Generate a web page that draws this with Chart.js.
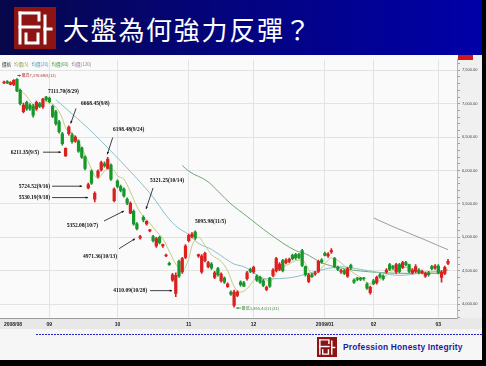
<!DOCTYPE html>
<html><head><meta charset="utf-8">
<script src="https://cdn.jsdelivr.net/npm/chart.js@4.4.1/dist/chart.umd.min.js"></script>
<style>
html,body{margin:0;padding:0;}
body{width:486px;height:366px;position:relative;overflow:hidden;background:#000;}
#slide{position:absolute;left:0;top:0;width:482px;height:360px;background:#f6f6f6;overflow:hidden;}
#band{position:absolute;left:0;top:0;width:482px;height:55px;background:linear-gradient(90deg,#07074a 0%,#04047c 45%,#0000a8 100%);}
#logo{position:absolute;left:14px;top:7px;width:42px;height:42px;}
#title{position:absolute;left:63px;top:16px;font:400 26px/26px "Noto Sans CJK TC";color:#fff;letter-spacing:1.7px;white-space:nowrap;}
#chartbox{position:absolute;left:0;top:55px;width:482px;height:277px;}
#dots{position:absolute;left:36px;top:334px;width:446px;height:1px;background:repeating-linear-gradient(90deg,#2424c8 0 2px,transparent 2px 3px);}
#logo2{position:absolute;left:317px;top:337px;width:20px;height:20px;}
#motto{position:absolute;left:343px;top:343px;font:bold 8.4px/9px "Liberation Sans";color:#1c1c9c;letter-spacing:0.2px;white-space:nowrap;}
</style></head>
<body>
<div id="slide">
 <div id="band"></div>
 <svg id="logo" viewBox="0 0 42 42"><rect x="0" y="0" width="42" height="42" fill="#8e1414"/><g fill="none" stroke="#fff" stroke-width="3" stroke-linecap="square"><path d="M6 6 H25 V13"/><path d="M6 6 V36"/><path d="M6 20 H25"/><path d="M12 27 V36 H24 V27"/><path d="M31 9 V36"/><path d="M31 22 H37"/></g></svg>
 <div id="title">大盤為何強力反彈？</div>
 <div id="chartbox"><canvas id="c" width="482" height="277" style="width:482px;height:277px"></canvas></div>
 <div id="dots"></div>
 <svg id="logo2" viewBox="0 0 42 42"><rect x="0" y="0" width="42" height="42" fill="#8e1414"/><g fill="none" stroke="#fff" stroke-width="3" stroke-linecap="square"><path d="M6 6 H25 V13"/><path d="M6 6 V36"/><path d="M6 20 H25"/><path d="M12 27 V36 H24 V27"/><path d="M31 9 V36"/><path d="M31 22 H37"/></g></svg>
 <div id="motto">Profession Honesty Integrity</div>
</div>
<script>
// ---- data (TAIEX daily, 2008/08 - 2009/03) ----
const opens = [7310,7330,7290,7290,7365,7200,6880,7020,6980,6960,6920,7000,6950,7100,
7080,6960,6880,6730,6550,6220,6550,6530,6440,6440,6340,6200,5740,5990,5570,5910,6010,6100,6030,6080,5550,
5840,5760,5720,5570,5360,5390,5200,4990,5300,5200,5095,5010,4870,5000,4870,4720,4610,4360,4160,4640,4480,4700,
4950,5010,5080,4720,4480,4650,4560,4600,4400,4530,4350,4390,4260,4180,3980,4130,4330,4320,4380,4520,
4480,4420,4400,4350,4220,4390,4430,4500,4520,4650,4620,4640,4730,4740,4740,4800,4560,4340,4440,4450,4490,4660,
4760,4720,4780,4680,4550,4480,4500,4420,4580,4360,4390,4390,4390,4300,4170,
4350,4320,4440,4420,4480,4590,4560,4480,4590,4550,4620,4590,4470,4490,4510,4470,4420,4470,4560,4540,
4570,4400,4460,4610];
const highs = [7340,7345,7330,7360,7377,7220,7010,7040,7000,6990,7040,7020,7080,7112,
7100,6980,6900,6750,6570,6340,6668,6560,6520,6460,6350,6220,5810,6010,5680,6010,6140,6130,6198,6100,5740,
5860,5780,5740,5590,5530,5410,5220,5030,5321,5250,5120,5030,5000,5020,4900,4750,4630,4460,4470,4660,4700,4890,
5050,5070,5096,4750,4740,4780,4640,4620,4490,4550,4470,4410,4320,4200,4210,4200,4350,4340,4490,4540,
4570,4440,4420,4370,4270,4400,4530,4700,4620,4670,4680,4690,4750,4760,4760,4820,4570,4460,4460,4490,4660,4680,
4780,4770,4830,4700,4570,4520,4520,4550,4600,4380,4400,4400,4400,4320,4270,
4370,4420,4460,4440,4530,4610,4580,4610,4610,4640,4640,4600,4530,4590,4530,4510,4480,4490,4580,4590,
4590,4500,4570,4670];
const lows = [7300,7300,7280,7270,7180,6980,6860,6900,6900,6800,6900,6940,6930,7040,
7010,6790,6680,6560,6380,6211,6530,6410,6420,6270,6180,6010,5724,5790,5530,5890,5990,6050,6020,5850,5530,
5740,5680,5600,5490,5352,5180,5110,4971,5230,5180,5080,4930,4850,4900,4850,4710,4580,4340,4110,4400,4460,4680,
4930,4990,4970,4700,4460,4630,4540,4520,4380,4420,4330,4310,4250,4130,3955,4110,4270,4260,4360,4470,
4460,4340,4310,4260,4200,4250,4410,4480,4500,4480,4600,4620,4660,4670,4680,4560,4420,4320,4400,4430,4470,4610,
4720,4700,4760,4540,4500,4460,4440,4400,4520,4310,4350,4350,4360,4220,4150,
4290,4300,4390,4360,4460,4500,4520,4460,4470,4530,4570,4470,4450,4470,4450,4450,4400,4420,4510,4520,
4450,4330,4440,4590];
const closes = [7325,7312,7315,7350,7190,7000,6980,6920,6920,6830,7020,6960,7070,7060,
7030,6810,6700,6580,6400,6330,6650,6430,6500,6290,6200,6030,5790,5810,5660,5990,6120,6070,6170,5870,5720,
5760,5700,5620,5510,5510,5200,5130,5010,5260,5240,5105,4950,4980,4920,4890,4735,4590,4440,4430,4420,4680,4870,
5030,5050,4990,4740,4720,4760,4620,4540,4470,4440,4450,4330,4300,4150,4180,4180,4290,4270,4470,4490,
4550,4360,4330,4280,4250,4270,4510,4680,4600,4500,4660,4670,4680,4690,4700,4580,4440,4440,4410,4470,4640,4630,
4730,4750,4800,4560,4520,4500,4460,4530,4540,4330,4370,4370,4380,4240,4250,
4310,4400,4410,4380,4510,4520,4540,4590,4490,4620,4590,4490,4510,4560,4470,4490,4460,4440,4530,4570,
4470,4480,4550,4640];
// moving averages: [candle index, value]
const ma5 = [[1,7310],[3,7300],[5,7210],[7,7110],[9,6990],[11,6970],[13,7030],[14,7020],[16,6950],[18,6780],[19,6640],[21,6560],[22,6500],[24,6340],[26,6130],[28,5920],[29,5880],[30,5930],[32,6030],[34,6000],[35,5920],[37,5870],[39,5680],[41,5460],[43,5310],[45,5210],[47,5090],[49,4980],[51,4790],[53,4600],[55,4500],[57,4680],[58,4870],[60,5000],[62,4880],[64,4740],[67,4640],[69,4500],[71,4260],[73,4180],[75,4230],[77,4350],[78,4400],[81,4360],[82,4330],[84,4460],[86,4550],[88,4600],[90,4650],[92,4660],[94,4520],[95,4450],[97,4480],[99,4600],[101,4690],[104,4620],[106,4530],[108,4460],[110,4400],[112,4320],[114,4300],[116,4360],[118,4430],[120,4500],[123,4550],[125,4540],[128,4480],[131,4480],[135,4490],[137,4520]];
const ma20 = [[16,7060],[26,6630],[34,6240],[41,5880],[46,5600],[50,5330],[53,5170],[57,5040],[60,4910],[64,4820],[68,4690],[71,4600],[74,4560],[81,4380],[89,4400],[97,4500],[104,4560],[110,4520],[116,4470],[122,4430],[128,4460],[135,4500],[137,4520]];
const ma60 = [[55,6075],[57,5990],[63,5830],[66,5690],[70,5500],[74,5350],[82,5050],[90,4800],[93,4755],[98,4620],[105,4530],[115,4475],[125,4460],[135,4460],[137,4515]];
const ma120 = [[114,5290],[120,5160],[125,5060],[130,4960],[134,4875],[137,4815]];
// x-axis month labels
const monthStarts = [0,14,35,57,77,99,114,134];
const monthLabels = ['2008/08','09','10','11','12','2009/01','02','03'];
// annotations
const noteLabels = ['最高7,376.69(8/13)','7111.70(8/29)','6668.45(9/8)','6211.35(9/5)','6198.48(9/24)','5724.52(9/16)','5530.19(9/18)','5352.08(10/7)','4971.36(10/13)','5321.25(10/14)','4110.09(10/28)','5095.98(11/5)','最低3,955.43(11/21)'];
const noteIndex = [4,13,20,19,32,26,28,39,42,43,53,59,71];
const noteValue = [7376.69,7111.70,6668.45,6211.35,6198.48,5724.52,5530.19,5352.08,4971.36,5321.25,4110.09,5095.98,3955.43];
const legendItems = ['價格','均價[5]','均價[20]','均價[60]','均價[120]'];

// ---- styling ----
const UP='#dc2020', DOWN='#17962a';
const MA_COLORS=['#c3cc84','#8cc0cc','#6faa6f','#a29a9e'];
const LEGEND_COLORS=['#333','#9aa04a','#4d9ab4','#3e963e','#8a7a8e'];
// label layout relative to anchor point: [dx, dy, align, arrow(x1,y1,x2,y2) or null, kind]
const noteLayout = [
 [4.5,-3,'left',[4,-3,0.5,-3],'hi'],
 [1.9,-4.6,'left',null,'n'],
 [12.2,-22.6,'left',[7.2,-17.4,1.9,-2.4],'n'],
 [-26.6,-4.2,'right',[-22.6,-4.2,-4.6,-4.2],'n'],
 [5.3,-27.7,'left',[5,-19.7,-0.4,-3],'n'],
 [-38.2,-2.7,'right',[-36.2,-2.7,-6.2,-2.7],'n'],
 [-44.7,-4.3,'right',[-42.7,-4.3,-6.7,-4.3],'n'],
 [-32.4,11.7,'right',[-26.4,7.2,-6.4,-2.8],'n'],
 [-23.1,17.5,'right',[-21.1,9.5,-5.1,-0.5],'n'],
 [6.7,-35.4,'left',[9.7,-27.9,2.7,-6.9],'n'],
 [-28.7,-6.1,'right',[-25.7,-6.1,-3.7,-6.1],'n'],
 [-0.2,-9.6,'left',null,'n'],
 [7.5,1,'left',[7,1,2,1],'lo']
];

const colors = opens.map((o,i)=> closes[i]>=o ? UP : DOWN);
const wickData = opens.map((o,i)=>({x:i,y:[lows[i],highs[i]]}));
const bodyData = opens.map((o,i)=>({x:i,y:[Math.min(o,closes[i]),Math.max(o,closes[i])]}));
const toPts = a => a.map(p=>({x:p[0],y:p[1]}));
const XMIN=-1.234, XMAX=139.77;

function arrow(ctx,x1,y1,x2,y2){
  ctx.beginPath();ctx.moveTo(x1,y1);ctx.lineTo(x2,y2);ctx.stroke();
  const a=Math.atan2(y2-y1,x2-x1), h=2.6;
  ctx.beginPath();ctx.moveTo(x2,y2);
  ctx.lineTo(x2-h*Math.cos(a-0.45),y2-h*Math.sin(a-0.45));
  ctx.lineTo(x2-h*Math.cos(a+0.45),y2-h*Math.sin(a+0.45));
  ctx.closePath();ctx.fill();
}

const deco = {
  id:'deco',
  beforeDraw(chart){
    const {ctx,chartArea:a}=chart;
    ctx.save();
    ctx.fillStyle='#fafafa';ctx.fillRect(0,0,chart.width,a.bottom);
    ctx.fillStyle='#f0f0f0';ctx.fillRect(a.right,0,chart.width-a.right,a.bottom);
    ctx.fillStyle='#e8e8e8';ctx.fillRect(0,a.bottom,chart.width,11);
    ctx.restore();
  },
  afterDraw(chart){
    const {ctx,chartArea:a}=chart;
    const xs=chart.scales.x, ys=chart.scales.y;
    ctx.save();
    // legend row
    ctx.font='4.5px "Noto Sans CJK TC"';ctx.textBaseline='middle';ctx.textAlign='left';
    let lx=2;
    legendItems.forEach((t,k)=>{ctx.fillStyle=LEGEND_COLORS[k];ctx.fillText(t,lx,a.top+5);lx+=ctx.measureText(t).width+3;});
    // small red box top right
    ctx.fillStyle='#d01818';ctx.fillRect(a.right+1,0,15,5);
    // annotations
    noteLabels.forEach((t,k)=>{
      const px=xs.getPixelForValue(noteIndex[k]), py=ys.getPixelForValue(noteValue[k]);
      const L=noteLayout[k];
      let col='#111';
      if(L[4]==='hi'){col='#a83232';ctx.font='4px "Noto Sans CJK TC"';}
      else if(L[4]==='lo'){col='#3a8c3a';ctx.font='4.1px "Noto Sans CJK TC"';}
      else ctx.font='bold 5.5px "Liberation Serif"';
      ctx.fillStyle=col;ctx.strokeStyle=col;ctx.lineWidth=0.8;
      ctx.textAlign=L[2];ctx.textBaseline='middle';
      ctx.fillText(t,px+L[0],py+L[1]);
      if(L[3]){const r=L[3];arrow(ctx,px+r[0],py+r[1],px+r[2],py+r[3]);}
    });
    ctx.restore();
  }
};

const lineDs=(d,c)=>({type:'line',data:toPts(d),borderColor:c,borderWidth:1,pointRadius:0,cubicInterpolationMode:'monotone',order:1,clip:false});

new Chart(document.getElementById('c'),{
  data:{datasets:[
    {type:'bar',data:bodyData,backgroundColor:colors,barThickness:2.6,grouped:false,minBarLength:1,order:0},
    {type:'bar',data:wickData,backgroundColor:colors,barThickness:1,grouped:false,order:0},
    lineDs(ma5,MA_COLORS[0]),lineDs(ma20,MA_COLORS[1]),lineDs(ma60,MA_COLORS[2]),lineDs(ma120,MA_COLORS[3])
  ]},
  options:{
    responsive:false,animation:false,
    layout:{padding:{top:2,left:0,right:0,bottom:0}},
    plugins:{legend:{display:false},tooltip:{enabled:false}},
    scales:{
      x:{type:'linear',min:XMIN,max:XMAX,offset:false,
        afterBuildTicks:s=>{s.ticks=monthStarts.map(v=>({value:v})).concat([{value:XMAX}]);},
        afterFit:s=>{s.height=14;},
        grid:{offset:false,color:c=>(c.tick&&c.tick.value>0&&c.tick.value<XMAX-1)?'#e3e3e3':'rgba(0,0,0,0)',drawTicks:false},
        border:{display:true,color:'#9c9c9c'},
        ticks:{autoSkip:false,maxRotation:0,align:'inner',padding:4,color:'#222',
          font:{size:5,weight:'bold',family:'Liberation Sans'},
          callback:v=>{const k=monthStarts.indexOf(v);return k>=0?monthLabels[k]:'';}}
      },
      y:{position:'right',min:3792,max:7663,
        afterBuildTicks:s=>{const t=[];for(let v=3800;v<=7600;v+=100)t.push({value:v});s.ticks=t;},
        afterFit:s=>{s.width=25;},
        grid:{color:c=>(c.tick&&c.tick.value%500===0)?'#e3e3e3':'rgba(0,0,0,0)',tickColor:'#a0a0a0',tickLength:3},
        border:{display:true,color:'#b4b4b4'},
        ticks:{autoSkip:false,padding:2,color:'#444',font:{size:4,family:'Liberation Sans'},
          callback:v=>v%500===0?v.toLocaleString('en-US',{minimumFractionDigits:2,maximumFractionDigits:2}):''}
      }
    }
  },
  plugins:[deco]
});
</script>
</body></html>
